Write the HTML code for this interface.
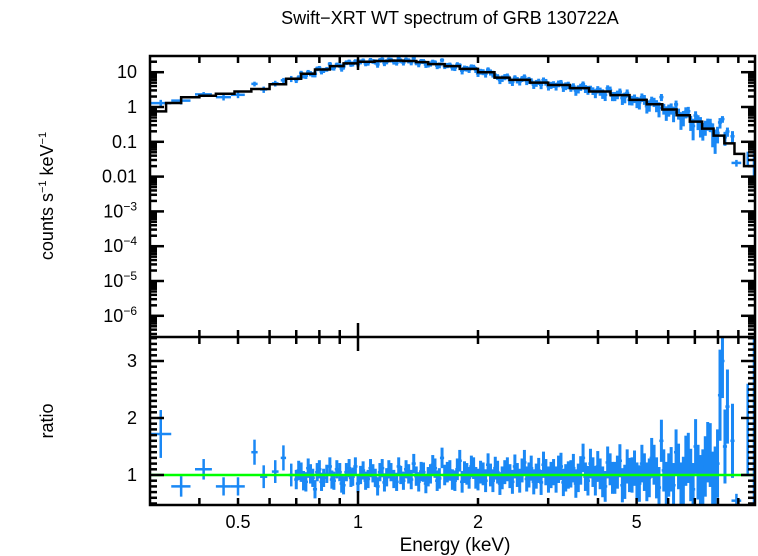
<!DOCTYPE html>
<html><head><meta charset="utf-8"><style>
body{margin:0;background:#fff;}
svg{display:block;font-family:"Liberation Sans",sans-serif;}
</style></head><body>
<svg id="c" width="758" height="556">
<text x="450" y="24" font-size="18" text-anchor="middle">Swift−XRT WT spectrum of GRB 130722A</text>
<text x="455" y="551" font-size="19" text-anchor="middle">Energy (keV)</text>
<text transform="translate(53,196) rotate(-90)" font-size="18" text-anchor="middle">counts s<tspan font-size="11" dy="-7">−1</tspan><tspan dy="7"> keV</tspan><tspan font-size="11" dy="-7">−1</tspan></text>
<text transform="translate(53,421) rotate(-90)" font-size="18" text-anchor="middle">ratio</text>
<g id="g"></g>
</svg>
<script>
const modelE=[0.30,0.33,0.36,0.40,0.44,0.49,0.54,0.60,0.66,0.72,0.78,0.85,0.92,1.00,1.10,1.20,1.30,1.40,1.50,1.65,1.80,2.00,2.20,2.40,2.70,3.00,3.40,3.80,4.30,4.80,5.30,5.80,6.30,6.80,7.30,7.80,8.30,8.80,9.30,9.90];
const modelV=[0.75,1.3,1.9,2.1,2.4,2.8,3.3,4.5,6.5,9,12,15,18,20,21,21.5,21,19.5,17,15,12.5,10,7,6,5,4.3,3.5,2.8,2.2,1.6,1.2,0.85,0.58,0.38,0.24,0.15,0.09,0.045,0.02];
const lowE=[0.32,0.36,0.41,0.46,0.50,0.55,0.58,0.62,0.65,0.68];
const lowR=[1.72,0.80,1.10,0.80,0.80,1.40,0.97,1.06,1.30,1.00];
const lowErr=[0.42,0.18,0.18,0.16,0.16,0.22,0.20,0.20,0.22,0.20];
const lowW=[0.02,0.02,0.02,0.02,0.02,0.01,0.012,0.012,0.01,0.01];
const dE=[0.70,0.72,0.74,0.76,0.78,0.80,0.82,0.85,0.87,0.90,0.92,0.95,0.97,1.00,1.03,1.06,1.09,1.12,1.15,1.18,1.21,1.25,1.28,1.32,1.36,1.40,1.44,1.48,1.52,1.56,1.60,1.65,1.70,1.75,1.80,1.85,1.90,1.95,2.00,2.06,2.12,2.18,2.24,2.30,2.37,2.44,2.51,2.58,2.65,2.72,2.80,2.88,2.96,3.05,3.14,3.23,3.32,3.42,3.52,3.62,3.72,3.83,3.94,4.05,4.17,4.29,4.41,4.54,4.67,4.80,4.94,5.08,5.23,5.38,5.53,5.69,5.85,6.02,6.19,6.37,6.55,6.74,6.93,7.13,7.33,7.54,7.76,7.98,8.21,8.45,8.70];
const dR=[0.92,1.05,0.88,1.02,0.75,1.10,0.95,1.15,0.90,1.05,0.82,1.12,0.97,0.85,1.08,0.93,1.03,0.80,1.12,0.96,1.05,0.88,1.00,1.10,0.92,0.98,1.06,0.85,1.02,1.12,0.94,1.00,1.08,0.90,1.25,1.05,0.95,1.12,0.92,1.02,1.18,0.90,1.05,0.95,1.10,0.88,1.00,1.08,0.93,1.12,0.98,0.87,1.05,1.00,0.92,1.15,0.95,1.02,0.85,1.08,0.97,1.20,0.90,1.02,0.80,1.10,0.95,1.25,0.88,1.00,1.12,0.85,1.05,0.95,1.18,0.78,1.08,1.00,0.82,1.15,0.90,1.30,0.75,1.05,0.95,1.40,0.85,1.20,3.0,2.2,1.6];
const dErr=[0.17,0.17,0.17,0.17,0.16,0.16,0.16,0.16,0.16,0.16,0.16,0.16,0.16,0.16,0.16,0.16,0.16,0.16,0.16,0.16,0.16,0.16,0.16,0.16,0.17,0.17,0.17,0.17,0.17,0.17,0.18,0.18,0.18,0.18,0.19,0.19,0.19,0.19,0.19,0.20,0.20,0.20,0.20,0.20,0.21,0.21,0.21,0.21,0.22,0.22,0.22,0.22,0.23,0.23,0.23,0.24,0.24,0.24,0.25,0.25,0.25,0.26,0.26,0.27,0.27,0.28,0.28,0.29,0.30,0.30,0.31,0.32,0.33,0.34,0.35,0.36,0.37,0.38,0.39,0.40,0.42,0.44,0.46,0.48,0.50,0.53,0.56,0.60,0.65,0.65,0.65];
const d2E=[0.71,0.73,0.75,0.77,0.79,0.81,0.835,0.86,0.885,0.91,0.935,0.96,0.985,1.015,1.045,1.075,1.105,1.135,1.165,1.195,1.23,1.265,1.30,1.34,1.38,1.42,1.46,1.50,1.54,1.58,1.625,1.675,1.725,1.775,1.825,1.875,1.925,1.975,2.03,2.09,2.15,2.21,2.27,2.335,2.405,2.475,2.545,2.615,2.685,2.76,2.84,2.92,3.005,3.095,3.185,3.275,3.37,3.47,3.57,3.67,3.775,3.885,3.995,4.11,4.23,4.35,4.475,4.605,4.735,4.87,5.01,5.155,5.305,5.455,5.61,5.77,5.935,6.105,6.28,6.46,6.645,6.835,7.03,7.23,7.435,7.65,7.87,8.095,8.33];
const d2R=[1.08,0.90,1.12,0.95,1.05,0.88,1.02,0.92,1.10,0.85,1.05,0.95,1.15,1.00,0.90,1.12,0.95,1.05,0.87,1.10,0.93,1.15,0.90,1.02,1.20,0.88,1.05,0.97,1.18,0.90,1.30,1.05,0.92,1.10,0.88,1.02,1.15,0.95,1.05,0.90,1.00,1.12,0.85,1.05,0.98,1.15,0.90,1.22,1.00,0.88,1.08,1.18,0.92,1.05,1.10,0.87,1.00,1.12,0.95,1.30,0.90,1.05,1.15,0.88,1.22,0.95,1.05,0.82,1.15,1.00,0.90,1.20,0.88,1.30,0.95,1.60,0.85,1.10,1.40,0.80,1.25,1.00,1.50,0.85,1.15,1.35,0.90,2.40,1.50];
const d2Err=[0.17,0.17,0.17,0.16,0.16,0.16,0.16,0.16,0.16,0.16,0.16,0.16,0.16,0.16,0.16,0.16,0.16,0.16,0.16,0.16,0.16,0.16,0.16,0.17,0.17,0.17,0.17,0.17,0.17,0.18,0.18,0.18,0.18,0.19,0.19,0.19,0.19,0.19,0.20,0.20,0.20,0.20,0.20,0.21,0.21,0.21,0.21,0.22,0.22,0.22,0.22,0.23,0.23,0.23,0.24,0.24,0.24,0.25,0.25,0.25,0.26,0.26,0.27,0.27,0.28,0.28,0.29,0.30,0.30,0.31,0.32,0.33,0.34,0.35,0.36,0.37,0.38,0.39,0.40,0.42,0.44,0.46,0.48,0.50,0.53,0.56,0.60,0.80,0.65];
const hiE=[8.9,9.5,9.9];
const hiR=[0.55,1.8,2.0];
const hiErr=[0.12,0.8,1.5];
const xTickVals=[0.5,1,2,5];
const xTickLabels=["0.5","1","2","5"];
const yTopVals=[1,0,-1,-2,-3,-4,-5,-6];
const yTopLabels=["10","1","0.1","0.01","10|−3","10|−4","10|−5","10|−6"];
const yBotVals=[1,2,3];

const L=150,R=755,T=56,M=337,B=505;
const X=e=>358+398.6*Math.log10(e);
const YT=v=>107-34.8*Math.log10(v);
const YTl=l=>107-34.8*l;
const YB=r=>475-57*(r-1);
const NS="http://www.w3.org/2000/svg";
const g=document.getElementById('g');
function mk(t,a){const e=document.createElementNS(NS,t);for(const k in a)e.setAttribute(k,a[k]);g.appendChild(e);return e;}
function ln(x1,y1,x2,y2,c,w){return mk('line',{x1,y1,x2,y2,stroke:c,'stroke-width':w});}
function interp(e){for(let i=0;i<modelE.length-1;i++){if(e>=modelE[i]&&e<modelE[i+1])return modelV[i];}return modelV[modelV.length-1];}

const blue="#1a88f5";
function drawPoint(e,w,r,er,sw){
  const mv=interp(e);
  let l=ln(Math.max(L,X(e-w)),YB(r),Math.min(R,X(e+w)),YB(r),blue,2.5);
  
  
  l=ln(Math.min(X(e),R-1),Math.max(M,YB(r+er)),Math.min(X(e),R-1),Math.min(B,YB(r-er)),blue,sw);
  
  
  const cv=mv*r, ce=mv*er;
  l=ln(Math.max(L,X(e-w)),YT(cv),Math.min(R,X(e+w)),YT(cv),blue,2.5);
  
  
  const lo=cv-ce>0?YT(cv-ce):M;
  l=ln(Math.min(X(e),R-1),Math.max(T,YT(cv+ce)),Math.min(X(e),R-1),Math.min(M,lo),blue,sw);
  
  
}
lowE.forEach((e,i)=>drawPoint(e,lowW[i],lowR[i],lowErr[i],2.5));
dE.forEach((e,i)=>drawPoint(e,e*0.012,dR[i],dErr[i],3));
d2E.forEach((e,i)=>drawPoint(e,e*0.012,d2R[i],d2Err[i],3));
hiE.forEach((e,i)=>drawPoint(e,i===0?0.25:0.05,hiR[i],hiErr[i],2.5));

let d='';
for(let i=0;i<modelV.length;i++){const x1=Math.max(L,X(modelE[i])),x2=Math.min(R,X(modelE[i+1]));const y=YT(modelV[i]);d+=(i?'L':'M')+x1+' '+y+' L'+x2+' '+y+' ';}
let p=mk('path',{d,fill:'none',stroke:'#000','stroke-width':2.5});


let gl=ln(L,YB(1),R,YB(1),'#00ff00',2.5);


let f=mk('rect',{x:L,y:T,width:R-L,height:B-T,fill:'none',stroke:'#000','stroke-width':2.5});


f=ln(L,M,R,M,'#000',2.5);


[0.4,0.5,0.6,0.7,0.8,0.9,1,2,3,4,5,6,7,8,9].forEach(v=>{
  const x=X(v),len=(v===1)?14:7;
  let t=ln(x,T,x,T+len,'#000',2.5);
  t=ln(x,M-len,x,M+len,'#000',2.5);
  t=ln(x,B,x,B-len,'#000',2.5);
});
xTickVals.forEach((v,i)=>{const t=mk('text',{x:X(v),y:528,'font-size':18,'text-anchor':'middle'});t.textContent=xTickLabels[i];
});
for(let l=-7;l<=1;l++){for(let m=1;m<10;m++){const v=l+Math.log10(m);const y=YTl(v);if(y<T||y>M)continue;const len=m===1?14:7;
  let t=ln(L,y,L+len,y,'#000',2.5);
  t=ln(R,y,R-len,y,'#000',2.5);}}
yTopVals.forEach((v,i)=>{const y=YTl(v)+6;const lab=yTopLabels[i];
  const t=mk('text',{x:137,y,'font-size':18,'text-anchor':'end'});
  if(lab.includes('|')){const [a,b]=lab.split('|');t.innerHTML=a+'<tspan font-size="12" dy="-7">'+b+'</tspan>';}else t.textContent=lab;
  });
for(let k=5;k<=34;k++){const v=k/10;const y=YB(v);if(y<M||y>B)continue;const maj=k%10===0,len=maj?14:7;
  let t=ln(L,y,L+len,y,'#000',2.5);
  t=ln(R,y,R-len,y,'#000',2.5);}
yBotVals.forEach(v=>{const t=mk('text',{x:137,y:YB(v)+6,'font-size':18,'text-anchor':'end'});t.textContent=String(v);
});
</script>
</body></html>
